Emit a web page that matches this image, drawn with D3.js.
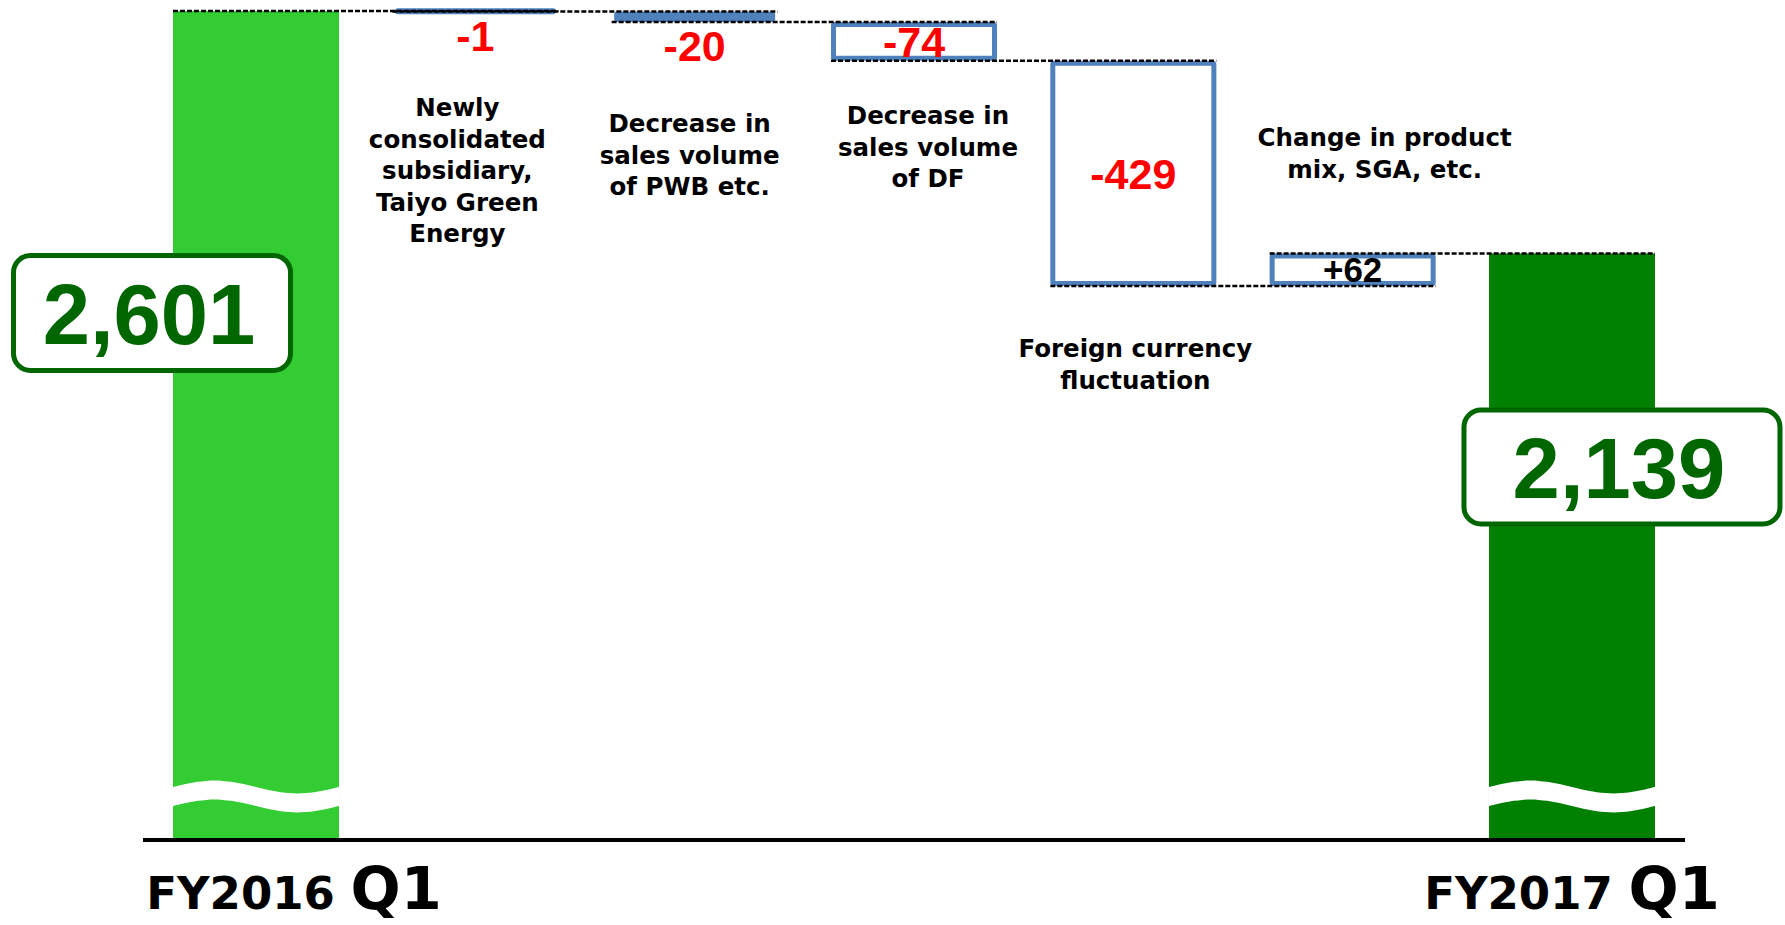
<!DOCTYPE html>
<html lang="en">
<head>
  <meta charset="utf-8">
  <title>Bridge FY2016 Q1 to FY2017 Q1</title>
  <script src="https://d3js.org/d3.v7.min.js"></script>
</head>
<style>
  body { margin: 0; background: #fff; }
  svg { display: block; }
  .note { font-family: "DejaVu Sans", Verdana, sans-serif; font-weight: bold; font-size: 24.5px; fill: #000; }
  .num { font-family: "Liberation Sans", Arial, sans-serif; font-weight: bold; }
  .period { font-family: "DejaVu Sans", Verdana, sans-serif; font-weight: bold; fill: #000; }
</style>
<body>
  <div class="chart"></div>
</body>
<script>
// steps of the bridge, left to right
var steps = ["FY2016 Q1", "Newly consolidated", "PWB", "DF", "FX", "Mix", "FY2017 Q1"];
var kinds = ["total", "delta", "delta", "delta", "delta", "delta", "total"];
var values = [2601, -1, -20, -74, -429, 62, 2139];
var valueLabels = ["2,601", "-1", "-20", "-74", "-429", "+62", "2,139"];
var notes = [
  [],
  ["Newly", "consolidated", "subsidiary,", "Taiyo Green", "Energy"],
  ["Decrease in", "sales volume", "of PWB etc."],
  ["Decrease in", "sales volume", "of DF"],
  ["Foreign currency", "fluctuation"],
  ["Change in product", "mix, SGA, etc."],
  []
];

var width = 1785, height = 925;
var base = 840;          // y of the (broken) baseline
var boxStroke = 5;
var blue = "#4F81BD";

// annotation placement (text boxes hand placed on the slide)
var noteLayout = [null, {dx: -18, y: 116}, {dx: -5, y: 132}, {dx: 14, y: 124}, {dx: 2, y: 357}, {dx: 32, y: 146}, null];
var totalBoxLayout = [{dx: -104, cy: 313, w: 277, h: 115}, null, null, null, null, null, {dx: 50, cy: 467, w: 316, h: 114}];
var periodDx = [38, 0, 0, 0, 0, 0, 0];

// running levels
var rows = [];
var level = 0;
values.forEach(function(v, i) {
  if (kinds[i] === "total") {
    rows.push({step: steps[i], kind: kinds[i], start: 0, end: v, label: valueLabels[i], i: i});
    level = v;
  } else {
    rows.push({step: steps[i], kind: kinds[i], start: level, end: level + v, label: valueLabels[i], i: i});
    level += v;
  }
});
var levels = rows.map(function(d) { return d.end; });

var svg = d3.select(".chart")
  .append("svg")
  .attr("width", width)
  .attr("height", height);

var x = d3.scaleBand()
  .domain(steps)
  .range([173, 1655])
  .paddingInner(0.243)
  .paddingOuter(0);
var bw = x.bandwidth();

// axis is broken, only the top part of the range is shown
var y = d3.scaleLinear()
  .domain([d3.min(levels), d3.max(levels)])
  .range([286, 11]);

// total bars
var totals = rows.filter(function(d) { return d.kind === "total"; });
svg.selectAll(".total")
  .data(totals)
  .enter().append("rect")
  .attr("class", "total")
  .attr("x", function(d) { return x(d.step); })
  .attr("y", function(d) { return y(d.end); })
  .attr("width", bw)
  .attr("height", function(d) { return base - y(d.end); })
  .style("fill", function(d) { return d.i === 0 ? "#33CC33" : "#008000"; });

// wavy break marks
var breakArea = d3.area()
  .curve(d3.curveBasis)
  .x(function(p) { return p[0]; })
  .y0(function(p) { return p[1] - 9.5; })
  .y1(function(p) { return p[1] + 9.5; });
svg.selectAll(".break")
  .data(totals)
  .enter().append("path")
  .attr("class", "break")
  .attr("d", function(d) {
    var x0 = x(d.step);
    var pts = d3.range(0, 1.0001, 0.05).map(function(t) {
      return [x0 + t * bw, base - 43.5 - 6.5 * Math.sin(2 * Math.PI * t)];
    });
    return breakArea(pts);
  })
  .style("fill", "#fff");

// delta boxes
var deltas = rows.filter(function(d) { return d.kind === "delta"; });
deltas.forEach(function(d) {
  d.top = y(Math.max(d.start, d.end));
  d.bot = y(Math.min(d.start, d.end));
  d.small = (d.bot - d.top) < 2 * boxStroke + 2;
});

svg.selectAll(".delta")
  .data(deltas)
  .enter().append("rect")
  .attr("class", "delta")
  .attr("x", function(d) { return x(d.step) + boxStroke / 2; })
  .attr("width", bw - boxStroke)
  .attr("y", function(d) {
    if (d.small) {
      var h = Math.max(d.bot - d.top, 6);
      return (d.top + d.bot) / 2 - h / 2;
    }
    return d.top + boxStroke / 2;
  })
  .attr("height", function(d) {
    if (d.small) return Math.max(d.bot - d.top, 6);
    return d.bot - d.top - boxStroke;
  })
  .attr("rx", function(d) { return d.small ? 3 : 1; })
  .style("fill", function(d) { return d.small ? blue : "#fff"; })
  .style("stroke", function(d) { return d.small ? "none" : blue; })
  .style("stroke-width", boxStroke);

// dashed connectors: from the left of step i to the right of step i+1
var links = rows.slice(0, rows.length - 1).map(function(d, i) {
  return {x1: x(d.step), x2: x(rows[i + 1].step) + bw, v: d.end};
});
svg.selectAll(".link")
  .data(links)
  .enter().append("line")
  .attr("class", "link")
  .attr("x1", function(d) { return d.x1; })
  .attr("x2", function(d) { return d.x2; })
  .attr("y1", function(d) { return y(d.v); })
  .attr("y2", function(d) { return y(d.v); })
  .style("stroke", "#000")
  .style("stroke-width", 2.5)
  .style("stroke-dasharray", "5,2");

// delta value labels
svg.selectAll(".dlabel")
  .data(deltas)
  .enter().append("text")
  .attr("class", "dlabel num")
  .attr("x", function(d) { return x(d.step) + bw / 2; })
  .attr("y", function(d) { return d.small ? d.bot + 39 : (d.top + d.bot) / 2; })
  .attr("dy", function(d) { return d.small ? 0 : "0.36em"; })
  .attr("text-anchor", "middle")
  .style("font-size", function(d) {
    if (d.small) return "43px";
    var fit = (d.bot - d.top - 1.5 * boxStroke) / 0.716;
    return Math.min(43, fit) + "px";
  })
  .style("fill", function(d) { return d.end < d.start ? "#FF0000" : "#000"; })
  .text(function(d) { return d.label; });

// notes
rows.forEach(function(d, i) {
  if (!notes[i].length) return;
  var t = svg.append("text")
    .attr("class", "note")
    .attr("text-anchor", "middle");
  notes[i].forEach(function(line, k) {
    t.append("tspan")
      .attr("x", x(d.step) + bw / 2 + noteLayout[i].dx)
      .attr("y", noteLayout[i].y + k * 31.5)
      .text(line);
  });
});

// totals value boxes
totals.forEach(function(d) {
  var lay = totalBoxLayout[d.i];
  var cx = x(d.step) + bw / 2 + lay.dx;
  svg.append("rect")
    .attr("x", cx - lay.w / 2)
    .attr("y", lay.cy - lay.h / 2)
    .attr("width", lay.w)
    .attr("height", lay.h)
    .attr("rx", 17)
    .style("fill", "#fff")
    .style("stroke", "#006600")
    .style("stroke-width", 5);
  svg.append("text")
    .attr("class", "num")
    .attr("x", cx - 3)
    .attr("y", lay.cy)
    .attr("dy", "0.36em")
    .attr("text-anchor", "middle")
    .style("font-size", "85px")
    .style("fill", "#006600")
    .text(d.label);
});

// baseline
svg.append("line")
  .attr("x1", x.range()[0] - 30)
  .attr("x2", x.range()[1] + 30)
  .attr("y1", base)
  .attr("y2", base)
  .style("stroke", "#000")
  .style("stroke-width", 4);

// period labels under the totals
totals.forEach(function(d) {
  var parts = d.step.split(" ");
  var t = svg.append("text")
    .attr("class", "period")
    .attr("x", x(d.step) + bw / 2 + periodDx[d.i])
    .attr("y", 909)
    .attr("text-anchor", "middle");
  t.append("tspan").style("font-size", "45px").text(parts[0] + " ");
  t.append("tspan").style("font-size", "59px").text(parts[1]);
});
</script>
</html>
